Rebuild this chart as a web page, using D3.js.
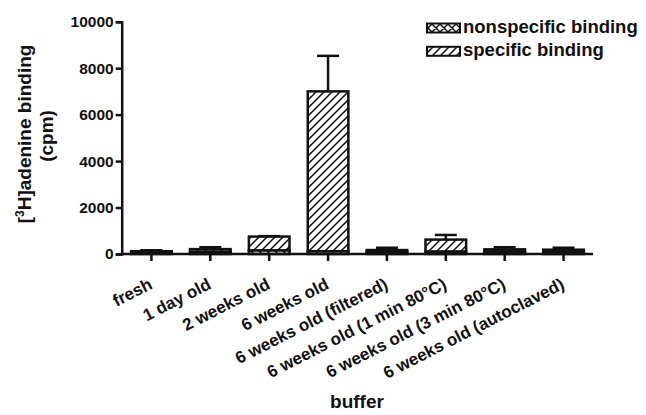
<!DOCTYPE html>
<html>
<head>
<meta charset="utf-8">
<script src="https://cdn.jsdelivr.net/npm/d3@7"></script>
<style>
  html, body { margin: 0; padding: 0; background: #fff; }
  text { font-family: "Liberation Sans", Arial, sans-serif; font-weight: bold; fill: #111; }
</style>
</head>
<body>
<div id="chart"></div>
<script>
// data
var categories = ["fresh", "1 day old", "2 weeks old", "6 weeks old",
                  "6 weeks old (filtered)", "6 weeks old (1 min 80\u00B0C)",
                  "6 weeks old (3 min 80\u00B0C)", "6 weeks old (autoclaved)"];
var nonspecific = [60, 90, 150, 120, 80, 100, 90, 80];
var specific    = [60, 120, 600, 6880, 90, 520, 110, 105];
var errTotal    = [40, 80, 20, 1530, 100, 200, 90, 85];
var yTicks = [0, 2000, 4000, 6000, 8000, 10000];
var seriesNames = ["nonspecific binding", "specific binding"];

var W = 646, H = 415;
var svg = d3.select("#chart").append("svg").attr("width", W).attr("height", H);

var defs = svg.append("defs");
var diag = defs.append("pattern").attr("id", "diag")
    .attr("patternUnits", "userSpaceOnUse").attr("width", 8).attr("height", 8);
diag.append("rect").attr("width", 8).attr("height", 8).attr("fill", "#fff");
diag.append("path").attr("d", "M-2,2 L2,-2 M0,8 L8,0 M6,10 L10,6")
    .attr("stroke", "#111").attr("stroke-width", 1.5);

var cross = defs.append("pattern").attr("id", "cross")
    .attr("patternUnits", "userSpaceOnUse").attr("width", 8).attr("height", 8);
cross.append("rect").attr("width", 8).attr("height", 8).attr("fill", "#fff");
cross.append("path").attr("d", "M-2,2 L2,-2 M0,8 L8,0 M6,10 L10,6 M-2,6 L2,10 M0,0 L8,8 M6,-2 L10,2")
    .attr("stroke", "#111").attr("stroke-width", 1.5);

var x = d3.scaleBand().domain(categories).range([122, 593])
    .paddingInner(0.31).paddingOuter(0.155);
var y = d3.scaleLinear().domain([0, 10000]).range([254, 21.7]);

// bars
var g = svg.append("g");
categories.forEach(function(c, i) {
  var ns = nonspecific[i], sp = specific[i], tot = ns + sp;
  // error bar (upwards only)
  var cx = x(c) + x.bandwidth() / 2;
  g.append("line").attr("x1", cx).attr("x2", cx)
    .attr("y1", y(tot)).attr("y2", y(tot + errTotal[i]))
    .attr("stroke", "#111").attr("stroke-width", 2.5);
  g.append("line").attr("x1", cx - 11).attr("x2", cx + 11)
    .attr("y1", y(tot + errTotal[i])).attr("y2", y(tot + errTotal[i]))
    .attr("stroke", "#111").attr("stroke-width", 2.5);
  g.append("rect").attr("x", x(c)).attr("width", x.bandwidth())
    .attr("y", y(tot)).attr("height", y(ns) - y(tot))
    .attr("fill", "url(#diag)").attr("stroke", "#111").attr("stroke-width", 2.5);
  g.append("rect").attr("x", x(c)).attr("width", x.bandwidth())
    .attr("y", y(ns)).attr("height", y(0) - y(ns))
    .attr("fill", "url(#cross)").attr("stroke", "#111").attr("stroke-width", 2.5);
});

// y axis
var yAxis = svg.append("g").attr("transform", "translate(121.7,0)")
    .call(d3.axisLeft(y).tickValues(yTicks).tickSize(6).tickPadding(2).tickFormat(d3.format("d")));
yAxis.selectAll("text").style("font-size", "15.5px").attr("fill", "#111");

// x axis
var xAxis = svg.append("g").attr("transform", "translate(0,254)")
    .call(d3.axisBottom(x).tickSize(7).tickSizeOuter(0));
xAxis.select(".domain").attr("d", "M120.5,0H593");
xAxis.selectAll("text")
    .style("font-size", "17px").attr("fill", "#111")
    .style("text-anchor", "end")
    .attr("dy", null).attr("y", 0)
    .attr("transform", "translate(2,34) rotate(-27)");

svg.selectAll(".domain, .tick line").attr("stroke", "#111").attr("stroke-width", 2.5);

// axis titles
var yt = svg.append("text").attr("transform", "translate(31,134) rotate(-90)")
    .attr("text-anchor", "middle").style("font-size", "19px");
yt.append("tspan").text("[");
yt.append("tspan").text("3").attr("dy", -7).style("font-size", "12px");
yt.append("tspan").text("H]adenine binding").attr("dy", 7);
svg.append("text").attr("transform", "translate(53,136) rotate(-90)")
    .attr("text-anchor", "middle").style("font-size", "19px").text("(cpm)");

svg.append("text").attr("x", 357).attr("y", 408).attr("text-anchor", "middle")
    .style("font-size", "19px").text("buffer");

// legend
var leg = svg.append("g");
["url(#cross)", "url(#diag)"].forEach(function(f, i) {
  leg.append("rect").attr("x", 427).attr("y", 23.5 + i * 23.3).attr("width", 33).attr("height", 9)
    .attr("fill", f).attr("stroke", "#111").attr("stroke-width", 2);
  leg.append("text").attr("x", 463).attr("y", 32.8 + i * 23.3)
    .style("font-size", "18.5px").text(seriesNames[i]);
});
</script>
</body>
</html>
